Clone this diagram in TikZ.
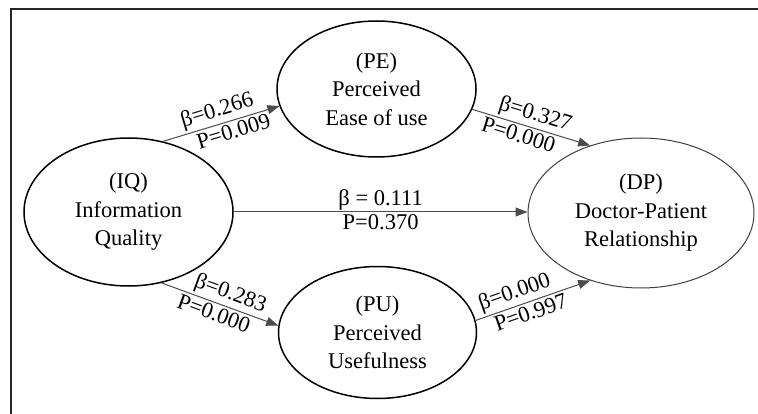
\documentclass[tikz,border=0pt]{standalone}
\usepackage{fontspec}
\setmainfont{Liberation Serif}
\usetikzlibrary{shapes.geometric,arrows.meta}
\begin{document}
\begin{tikzpicture}[x=1pt,y=-1pt,
  every node/.style={font=\fontsize{22.5}{28.5}\selectfont},
  construct/.style={ellipse,draw=black,line width=1.5pt,inner sep=0pt,align=center},
  conn/.style={draw=black!70,line width=1pt,-{Triangle[length=12pt,width=9pt]}},
  lab/.style={sloped,inner sep=2.5pt}
]
\useasboundingbox (0,0) rectangle (758,414);
\fill[white] (0,0) rectangle (758,414);
\draw[line width=2pt,black!85] (11,414) -- (11,9) -- (758,9);
\node[construct,minimum width=209pt,minimum height=148pt] (iq) at (128.5,212) {(IQ)\\Information\\Quality};
\node[construct,minimum width=199pt,minimum height=136pt] (pe) at (376.5,89) {(PE)\\Perceived\\Ease of use};
\node[construct,minimum width=198pt,minimum height=132pt] (pu) at (377.5,332.5) {(PU)\\Perceived\\Usefulness};
\node[construct,draw=black!75,line width=1pt,minimum width=226pt,minimum height=150pt] (dp) at (641,213) {(DP)\\Doctor-Patient\\Relationship};
\path[conn] (iq.64) -- (pe.190)
  node[lab,above,pos=0.5] {β=0.266}
  node[lab,below,pos=0.58] {P=0.009};
\path[conn] (pe.-12) -- (dp.127)
  node[lab,above,pos=0.5] {β=0.327}
  node[lab,below,pos=0.42] {P=0.000};
\path[conn] (iq.-65) -- (pu.176)
  node[lab,above,pos=0.55] {β=0.283}
  node[lab,below,pos=0.48] {P=0.000};
\path[conn] (pu.7) -- (dp.-127)
  node[lab,above,pos=0.38] {β=0.000}
  node[lab,below,pos=0.45] {P=0.997};
\path[conn] (iq.east) -- (iq.east -| dp.west)
  node[above,pos=0.5,inner sep=1pt] {β = 0.111}
  node[below,pos=0.5,inner sep=2pt] {P=0.370};
\end{tikzpicture}
\end{document}
